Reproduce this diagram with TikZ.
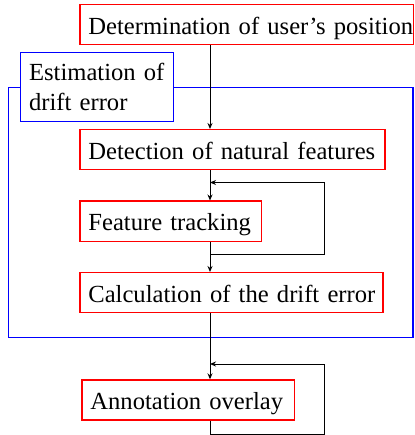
\documentclass[tikz,border=0pt]{standalone}
\usepackage{fontspec}
\setmainfont{Liberation Serif}
\usetikzlibrary{arrows.meta}
\newcommand\lbox[1]{\makebox[\linewidth][l]{#1}}
\begin{document}
\begin{tikzpicture}[x=1pt,y=-1pt,
  redbox/.style={draw=red, fill=white, line width=1.2pt, anchor=north west,
    inner xsep=8.5pt, inner ysep=0pt, text height=19.5pt, text depth=0pt,
    align=left, minimum height=40pt, font=\fontsize{24.6}{29.3}\selectfont},
  bluebox/.style={draw=blue, fill=white, line width=1.2pt, anchor=north west,
    inner xsep=8.5pt, inner ysep=0pt, align=left,
    font=\fontsize{24.6}{29.3}\selectfont},
  frame/.style={draw=blue, line width=1.2pt},
  arr/.style={draw=black, line width=1pt, -{Stealth[length=6pt,width=5pt]}},
  ln/.style={draw=black, line width=1pt}]
\useasboundingbox (0,0) rectangle (414,435);
\coordinate (spine) at (210,0);
% blue frame
\draw[frame] (8.3,87.7) rectangle (413,337.3);
\node[bluebox, minimum width=153pt, minimum height=69pt, text width=136pt] (est) at (20,52) {\lbox{Estimation of}\\\lbox{drift error}};
% boxes
\node[redbox, minimum width=333.7pt, text width=316.7pt] (pos) at (79.3,4) {\lbox{Determination of user’s position}};
\node[redbox, minimum width=305pt, text width=288pt] (det) at (79.3,129) {\lbox{Detection of natural features}};
\node[redbox, minimum width=181.7pt, text width=164.7pt] (ftr) at (79.3,200.5) {\lbox{Feature tracking}};
\node[redbox, minimum width=303pt, text width=286pt] (calc) at (79.3,272) {\lbox{Calculation of the drift error}};
\node[redbox, minimum width=212.4pt, text width=195.4pt] (ann) at (81.3,379.3) {\lbox{Annotation overlay}};
% loop corners
\coordinate (l1top) at (324,182.5);
\coordinate (l1bot) at (324,254);
\coordinate (l2top) at (324,364);
\coordinate (l2bot) at (324,434);
% connectors
\draw[arr] (pos.south -| spine) -- (det.north -| spine);
\draw[arr] (det.south -| spine) -- (ftr.north -| spine);
\draw[arr] (ftr.south -| spine) |- (l1bot) -- (l1top) -- (l1top -| spine);
\draw[arr] (spine |- l1bot) -- (calc.north -| spine);
\draw[arr] (calc.south -| spine) -- (ann.north -| spine);
\draw[arr] (ann.south -| spine) |- (l2bot) -- (l2top) -- (l2top -| spine);
\end{tikzpicture}
\end{document}
